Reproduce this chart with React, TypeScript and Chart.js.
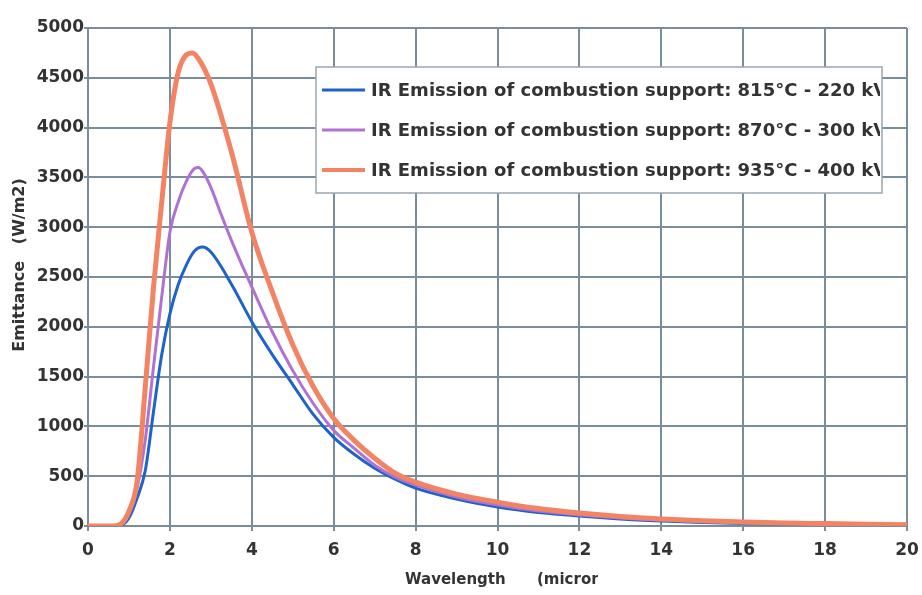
import React, { useEffect, useRef } from "react";
import { Chart, registerables } from "chart.js";

Chart.register(...registerables);

// ---- data ----
const blueX = [0, 0.6, 0.8, 1.0, 1.2, 1.4, 1.6, 1.8, 2.0, 2.2, 2.4, 2.6, 2.8, 3.0, 3.5, 4.0, 4.5, 5.0, 5.5, 6.0, 6.5, 7.0, 7.5, 8.0, 9, 10, 11, 12, 13, 14, 15, 16, 17, 18, 19, 20];
const blueY = [0, 0, 5, 80, 280, 560, 1150, 1720, 2130, 2420, 2620, 2760, 2800, 2750, 2430, 2050, 1720, 1420, 1120, 890, 720, 580, 470, 380, 270, 190, 135, 100, 70, 50, 35, 25, 20, 15, 12, 5];

const purpleX = [0, 0.6, 0.8, 1.0, 1.2, 1.4, 1.6, 1.8, 2.0, 2.2, 2.4, 2.6, 2.7, 2.8, 3.0, 3.25, 3.5, 3.75, 4.0, 4.5, 5.0, 5.5, 6.0, 6.5, 7.0, 7.5, 8.0, 9, 10, 11, 12, 13, 14, 15, 16, 17, 18, 19, 20];
const purpleY = [0, 0, 10, 120, 380, 870, 1600, 2300, 2950, 3250, 3460, 3590, 3600, 3560, 3400, 3130, 2870, 2630, 2400, 1950, 1560, 1230, 960, 780, 610, 490, 410, 290, 210, 150, 110, 80, 60, 45, 33, 25, 20, 15, 10];

const orangeX = [0, 0.6, 0.8, 1.0, 1.2, 1.4, 1.6, 1.8, 2.0, 2.2, 2.4, 2.55, 2.7, 3.0, 3.5, 4.0, 4.5, 5.0, 5.5, 6.0, 6.5, 7.0, 7.5, 8.0, 9, 10, 11, 12, 13, 14, 15, 16, 17, 18, 19, 20];
const orangeY = [0, 0, 20, 150, 450, 1400, 2400, 3250, 4050, 4550, 4730, 4750, 4690, 4440, 3760, 2950, 2350, 1820, 1400, 1080, 860, 680, 530, 440, 320, 240, 175, 130, 95, 70, 52, 40, 30, 24, 18, 12];

const seriesLabels = [
  "IR Emission of combustion support: 815°C - 220 kV",
  "IR Emission of combustion support: 870°C - 300 kV",
  "IR Emission of combustion support: 935°C - 400 kV",
];
const xTicks = [0, 2, 4, 6, 8, 10, 12, 14, 16, 18, 20];
const yTicks = [0, 500, 1000, 1500, 2000, 2500, 3000, 3500, 4000, 4500, 5000];
const xTitle = "Wavelength      (microns)";
const yTitle = "Emittance   (W/m2)";

// ---- styles ----
const COLORS = ["#1d63c9", "#b072d2", "#f28464"];
const WIDTHS = [3, 3, 5];
const GRID = "#7a8d9b";
const TEXT = "#333333";
const FONT = '"DejaVu Sans", Verdana, sans-serif';

const toPoints = (xs: number[], ys: number[]) => xs.map((x, i) => ({ x, y: ys[i] }));

const overlayPlugin = {
  id: "overlay",
  afterDraw(chart: any) {
    const ctx: CanvasRenderingContext2D = chart.ctx;
    const area = chart.chartArea;

    // y title
    ctx.save();
    ctx.fillStyle = TEXT;
    ctx.font = `bold 16px ${FONT}`;
    ctx.translate(20, 265);
    ctx.rotate(-Math.PI / 2);
    ctx.textAlign = "center";
    ctx.textBaseline = "middle";
    ctx.fillText(yTitle, 0, 0);
    ctx.restore();

    // x title (clipped like the reference)
    ctx.save();
    ctx.beginPath();
    ctx.rect(0, area.bottom + 30, 598, 80);
    ctx.clip();
    ctx.fillStyle = TEXT;
    ctx.font = `bold 15px ${FONT}`;
    ctx.textAlign = "left";
    ctx.textBaseline = "middle";
    ctx.fillText(xTitle, 405, 580);
    ctx.restore();

    // legend box
    const bx = 316, by = 67, bw = 566, bh = 126;
    ctx.save();
    ctx.fillStyle = "#ffffff";
    ctx.fillRect(bx, by, bw, bh);
    ctx.strokeStyle = "#9aa6ae";
    ctx.lineWidth = 1.5;
    ctx.strokeRect(bx, by, bw, bh);
    ctx.beginPath();
    ctx.rect(bx, by, bw - 2, bh);
    ctx.clip();
    const rows = [90, 130, 170];
    seriesLabels.forEach((label, i) => {
      ctx.strokeStyle = COLORS[i];
      ctx.lineWidth = i === 2 ? 4 : 3;
      ctx.beginPath();
      ctx.moveTo(322, rows[i]);
      ctx.lineTo(365, rows[i]);
      ctx.stroke();
      ctx.fillStyle = TEXT;
      ctx.font = `bold 18px ${FONT}`;
      ctx.textAlign = "left";
      ctx.textBaseline = "middle";
      ctx.fillText(label, 371, rows[i] + 1);
    });
    ctx.restore();
  },
};

export default function App() {
  const ref = useRef<HTMLCanvasElement | null>(null);

  useEffect(() => {
    document.body.style.margin = "0";
    document.body.style.background = "#ffffff";
    if (!ref.current) return;
    const datasets = [
      toPoints(blueX, blueY),
      toPoints(purpleX, purpleY),
      toPoints(orangeX, orangeY),
    ].map((data, i) => ({
      label: seriesLabels[i],
      data,
      borderColor: COLORS[i],
      backgroundColor: COLORS[i],
      borderWidth: WIDTHS[i],
      pointRadius: 0,
      fill: false,
      cubicInterpolationMode: "monotone" as const,
      order: 3 - i,
    }));

    const chart = new Chart(ref.current, {
      type: "line",
      data: { datasets },
      options: {
        animation: false,
        responsive: false,
        layout: { padding: { top: 28, right: 15, left: 0, bottom: 0 } },
        plugins: { legend: { display: false }, tooltip: { enabled: false } },
        scales: {
          x: {
            type: "linear",
            min: 0,
            max: 20,
            afterBuildTicks: (s: any) => {
              s.ticks = xTicks.map((v) => ({ value: v }));
            },
            afterFit: (s: any) => {
              s.height = 69;
              s.paddingLeft = 0;
              s.paddingRight = 0;
            },
            ticks: {
              color: TEXT,
              font: { family: FONT, size: 17, weight: "bold" },
              padding: 9,
              maxRotation: 0,
              callback: (v: any) => String(v),
            },
            grid: { color: GRID, lineWidth: 2, tickLength: 5, tickColor: GRID },
            border: { color: GRID, width: 2 },
          },
          y: {
            type: "linear",
            min: 0,
            max: 5000,
            afterBuildTicks: (s: any) => {
              s.ticks = yTicks.map((v) => ({ value: v }));
            },
            afterFit: (s: any) => {
              s.width = 88;
              s.paddingTop = 0;
              s.paddingBottom = 0;
            },
            ticks: {
              color: TEXT,
              font: { family: FONT, size: 17, weight: "bold" },
              padding: 0,
              callback: (v: any) => String(v),
            },
            grid: { color: GRID, lineWidth: 2, tickLength: 4, tickColor: GRID },
            border: { color: GRID, width: 2 },
          },
        },
      },
      plugins: [overlayPlugin],
    });
    return () => chart.destroy();
  }, []);

  return <canvas ref={ref} width={922} height={595} style={{ display: "block" }} />;
}
